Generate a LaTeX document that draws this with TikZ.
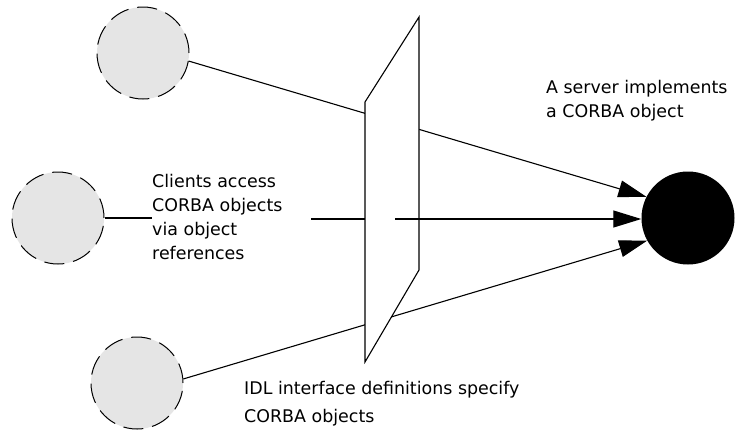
\documentclass[tikz,border=0pt]{standalone}
\usepackage{fontspec}
\setmainfont{DejaVu Sans}
\usetikzlibrary{arrows.meta}

\begin{document}
\begin{tikzpicture}[x=1bp,y=-1bp,
  client/.style={circle,draw,dash pattern=on 20bp off 9bp,line width=1bp,fill=black!10,minimum size=92bp,inner sep=0pt},
  server/.style={circle,fill=black,minimum size=93bp,inner sep=0pt},
  label/.style={anchor=north west,inner sep=0pt,align=left,font=\fontsize{17.5}{24.3}\selectfont},
  link/.style={line width=1.1bp},
  request/.style={link,-{Triangle[length=28bp,width=17bp]}}]

\useasboundingbox (0,0) rectangle (735,430);

% Clients
\node[client] (client1) at (143,53) {};
\node[client] (client2) at (58,218) {};
\node[client] (client3) at (137,383) {};

% Server object
\node[server] (server) at (688,218) {};

% Labels
\node[label] (servertext) at (546,80) {A server implements\\a CORBA object};
\node[label] (clientstext) at (152,173.7) {Clients access\\CORBA objects\\via object\\references};
\node[label,font=\fontsize{17.5}{28}\selectfont] (idltext) at (244,380.7) {IDL interface definitions specify\\CORBA objects};

% Requests from the outer clients
\draw[request] (client1.-10) -- (server.153);
\draw[request] (client3.5) -- (server.209);
\draw[link] (client2) -- (client2 -| clientstext.west);

% IDL interface
\coordinate (idltl) at (365,102);
\coordinate (idltr) at (419,17);
\coordinate (idlbr) at (419,270);
\coordinate (idlbl) at (365,362);
\draw[link,fill=white] (idltl) -- (idltr) -- (idlbr) -- (idlbl) -- cycle;

% Middle request
\coordinate (gapstart) at (311,219);
\coordinate (arrowstart) at (395,219);
\draw[link] (gapstart) -- (gapstart -| idltl);
\draw[request] (arrowstart) -- (arrowstart -| server.west);
\end{tikzpicture}
\end{document}
